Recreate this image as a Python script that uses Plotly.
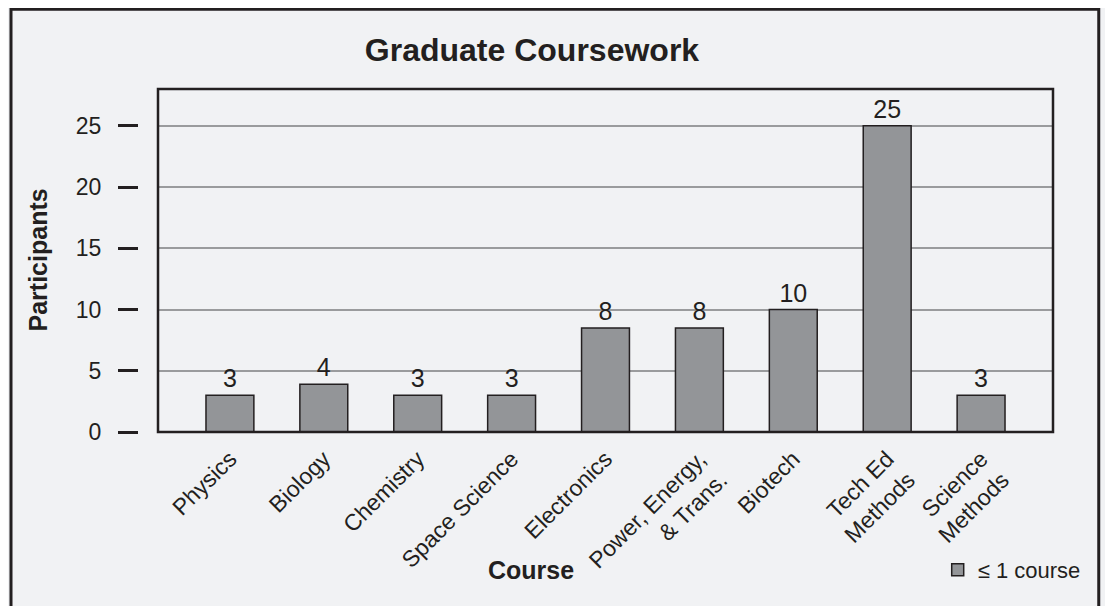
import plotly.graph_objects as go

courses = ["Physics", "Biology", "Chemistry", "Space Science", "Electronics",
           "Power, Energy,<br>& Trans.", "Biotech", "Tech Ed<br>Methods",
           "Science<br>Methods"]
# bar heights as drawn vs. the counts printed above them
heights = [3, 3.9, 3, 3, 8.5, 8.5, 10, 25, 3]
counts = [3, 4, 3, 3, 8, 8, 10, 25, 3]
y_ticks = [0, 5, 10, 15, 20, 25]

INK = "#231f20"
BAR = "#939598"
FONT = "Liberation Sans, Arial, sans-serif"

fig = go.Figure()

fig.add_trace(go.Bar(
    x=courses,
    y=heights,
    text=[str(c) for c in counts],
    textposition="outside",
    textfont=dict(size=25, color=INK),
    constraintext="none",
    cliponaxis=False,
    width=0.51,
    marker=dict(color=BAR, line=dict(color=INK, width=1.5)),
    name="≤ 1 course",
    showlegend=True,
))

# page body adds an 8px offset, so the figure is drawn 8px smaller
fig.update_layout(
    width=1105,
    height=598,
    margin=dict(l=130, r=60, t=81, b=169),
    paper_bgcolor="#f1f2f4",
    plot_bgcolor="white",
    font=dict(family=FONT, color=INK),
    title=dict(
        text="<b>Graduate Coursework</b>",
        font=dict(size=32, color=INK),
        xref="container", x=0.4742, xanchor="center",
        yref="container", y=0.9298, yanchor="middle",
    ),
    xaxis=dict(
        domain=[20 / 915, 1],
        range=[-0.766, 8.766],
        tickangle=-45,
        tickfont=dict(size=23, color=INK),
        ticks="",
        ticklabelstandoff=8,
        showline=False,
        showgrid=False,
        zeroline=False,
    ),
    yaxis=dict(
        range=[0, 28],
        tickvals=y_ticks,
        anchor="free",
        position=0,
        ticks="outside",
        ticklen=20,
        tickwidth=2.5,
        tickcolor=INK,
        ticklabelstandoff=12,
        tickfont=dict(size=23, color=INK),
        showgrid=True,
        gridcolor="#9a9b9d",
        gridwidth=2,
        showline=False,
        zeroline=False,
    ),
    legend=dict(
        x=0.874, y=-0.402, xanchor="left", yanchor="middle",
        bgcolor="rgba(0,0,0,0)",
        font=dict(size=22, color=INK),
    ),
    bargap=0.49,
    showlegend=True,
)

# axis titles
fig.add_annotation(text="<b>Participants</b>", textangle=-90,
                   xref="paper", yref="paper", x=-0.1093, y=0.503,
                   xanchor="center", yanchor="middle", showarrow=False,
                   font=dict(size=25, color=INK))
fig.add_annotation(text="<b>Course</b>",
                   xref="paper", yref="paper", x=0.4295, y=-0.402,
                   xanchor="center", yanchor="middle", showarrow=False,
                   font=dict(size=25, color=INK))

# plot frame
fig.add_shape(type="rect", xref="x domain", yref="y domain",
              x0=0, x1=1, y0=0, y1=1, layer="above",
              line=dict(color=INK, width=2.5))
# outer border of the figure panel
fig.add_shape(type="rect", xref="paper", yref="paper",
              x0=-0.1388, x1=1.05, y0=-0.6, y1=1.2328, layer="below",
              line=dict(color=INK, width=3), fillcolor="#f1f2f4")

fig.write_html("out.html")
